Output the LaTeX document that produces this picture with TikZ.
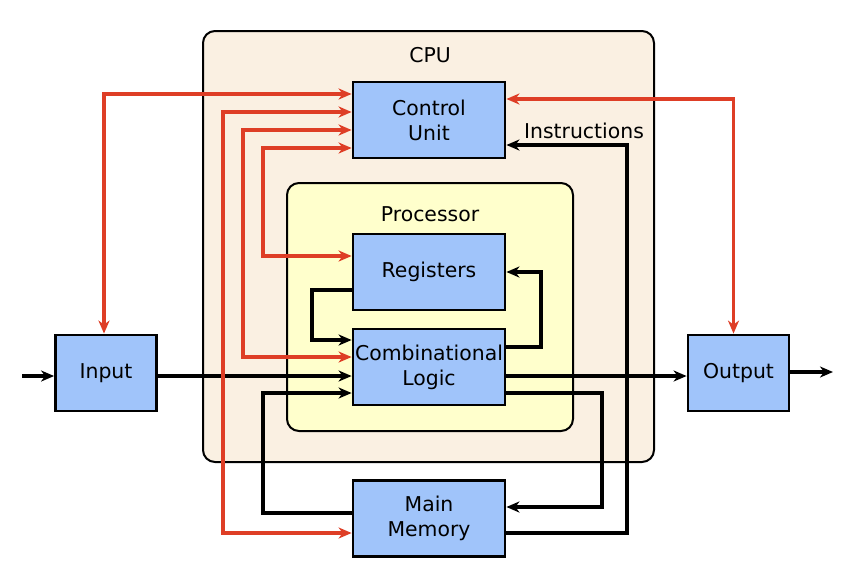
\documentclass[tikz,border=0pt]{standalone}
\usepackage{fontspec}
\setmainfont{DejaVu Sans}
\usepackage{tikz}
\usetikzlibrary{arrows.meta,positioning}

\definecolor{cpufill}{RGB}{250,240,226}
\definecolor{procfill}{RGB}{255,255,204}
\definecolor{blockfill}{RGB}{160,196,250}
\definecolor{ctlred}{RGB}{222,62,38}

\begin{document}
\begin{tikzpicture}[x=0.5pt, y=-0.5pt, font=\fontsize{10.2}{12.6}\selectfont]
			\tikzstyle{Container}	= [draw, line width=1pt, rounded corners=6pt, inner sep=0pt]
			\tikzstyle{Block}	= [rectangle, draw, line width=1.4pt, fill=blockfill, align=center, inner sep=0pt]
			\tikzstyle{Wide}	= [Block, minimum width=76pt, minimum height=38pt]
			\tikzstyle{Port}	= [Block, minimum width=50.5pt, minimum height=38pt]
			\tikzstyle{Tip}		= [-{Stealth[length=6.5pt, width=5.5pt, inset=2pt]}]
			\tikzstyle{Data}	= [Tip, line width=1.6pt, black]
			\tikzstyle{Ctrl}	= [{Stealth[length=6.5pt, width=5.5pt, inset=2pt]}-{Stealth[length=6.5pt, width=5.5pt, inset=2pt]}, line width=1.6pt, ctlred]

			\useasboundingbox (0, 0) rectangle (845, 573);

			\node (cpu) at (428.5, 246.5) [Container, fill=cpufill, minimum width=225.5pt, minimum height=215.5pt] {};
			\node (cpulabel) at (430, 55) {CPU};
			\node (proc) at (430, 307) [Container, fill=procfill, minimum width=143pt, minimum height=124pt] {};
			\node (proclabel) at (430, 214) {Processor};

			\node (cu) at (429, 120) [Wide] {Control\\Unit};
			\node (reg) at (429, 272) [Wide] {Registers};
			\node (cl) at (429, 367) [Wide] {Combinational\\Logic};
			\node (mem) at (429, 518.5) [Wide] {Main\\Memory};
			\node (input) at (106, 373) [Port] {Input};
			\node (output) at (738.5, 373) [Port] {Output};

			\coordinate (src) at (22, 376);
			\coordinate (sink) at (833, 372);

			% data paths
			\draw [Data] (src) to (input.west |- src);
			\draw [Data] (input.east |- src) to (cl.west |- src);
			\draw [Data] (cl.east |- src) to (output.west |- src);
			\draw [Data] (output.east |- sink) to (sink);
			\draw [Data] (reg.west |- 0,290) -| (312, 340) -- (cl.west |- 0,340);
			\draw [Data] (cl.east |- 0,347) -| (541, 272) -- (reg.east |- 0,272);
			\draw [Data] (mem.west |- 0,513) -| (263, 393) -- (cl.west |- 0,393);
			\draw [Data] (cl.east |- 0,393) -| (602, 507) -- (mem.east |- 0,507);
			\draw [Data] (mem.east |- 0,533) -| (627, 145) -- (cu.east |- 0,145);
			\node (instr) at (584, 131) {Instructions};

			% control paths
			\draw [Ctrl] ([xshift=-1pt]input.north) |- (cu.west |- 0,94);
			\draw [Ctrl] (cu.west |- 0,112) -| (223, 533) -- (mem.west |- 0,533);
			\draw [Ctrl] (cu.west |- 0,130) -| (243, 357) -- (cl.west |- 0,357);
			\draw [Ctrl] (cu.west |- 0,148) -| (263, 256) -- (reg.west |- 0,256);
			\draw [Ctrl] (cu.east |- 0,99) -| ([xshift=-2.5pt]output.north);
		\end{tikzpicture}
\end{document}
